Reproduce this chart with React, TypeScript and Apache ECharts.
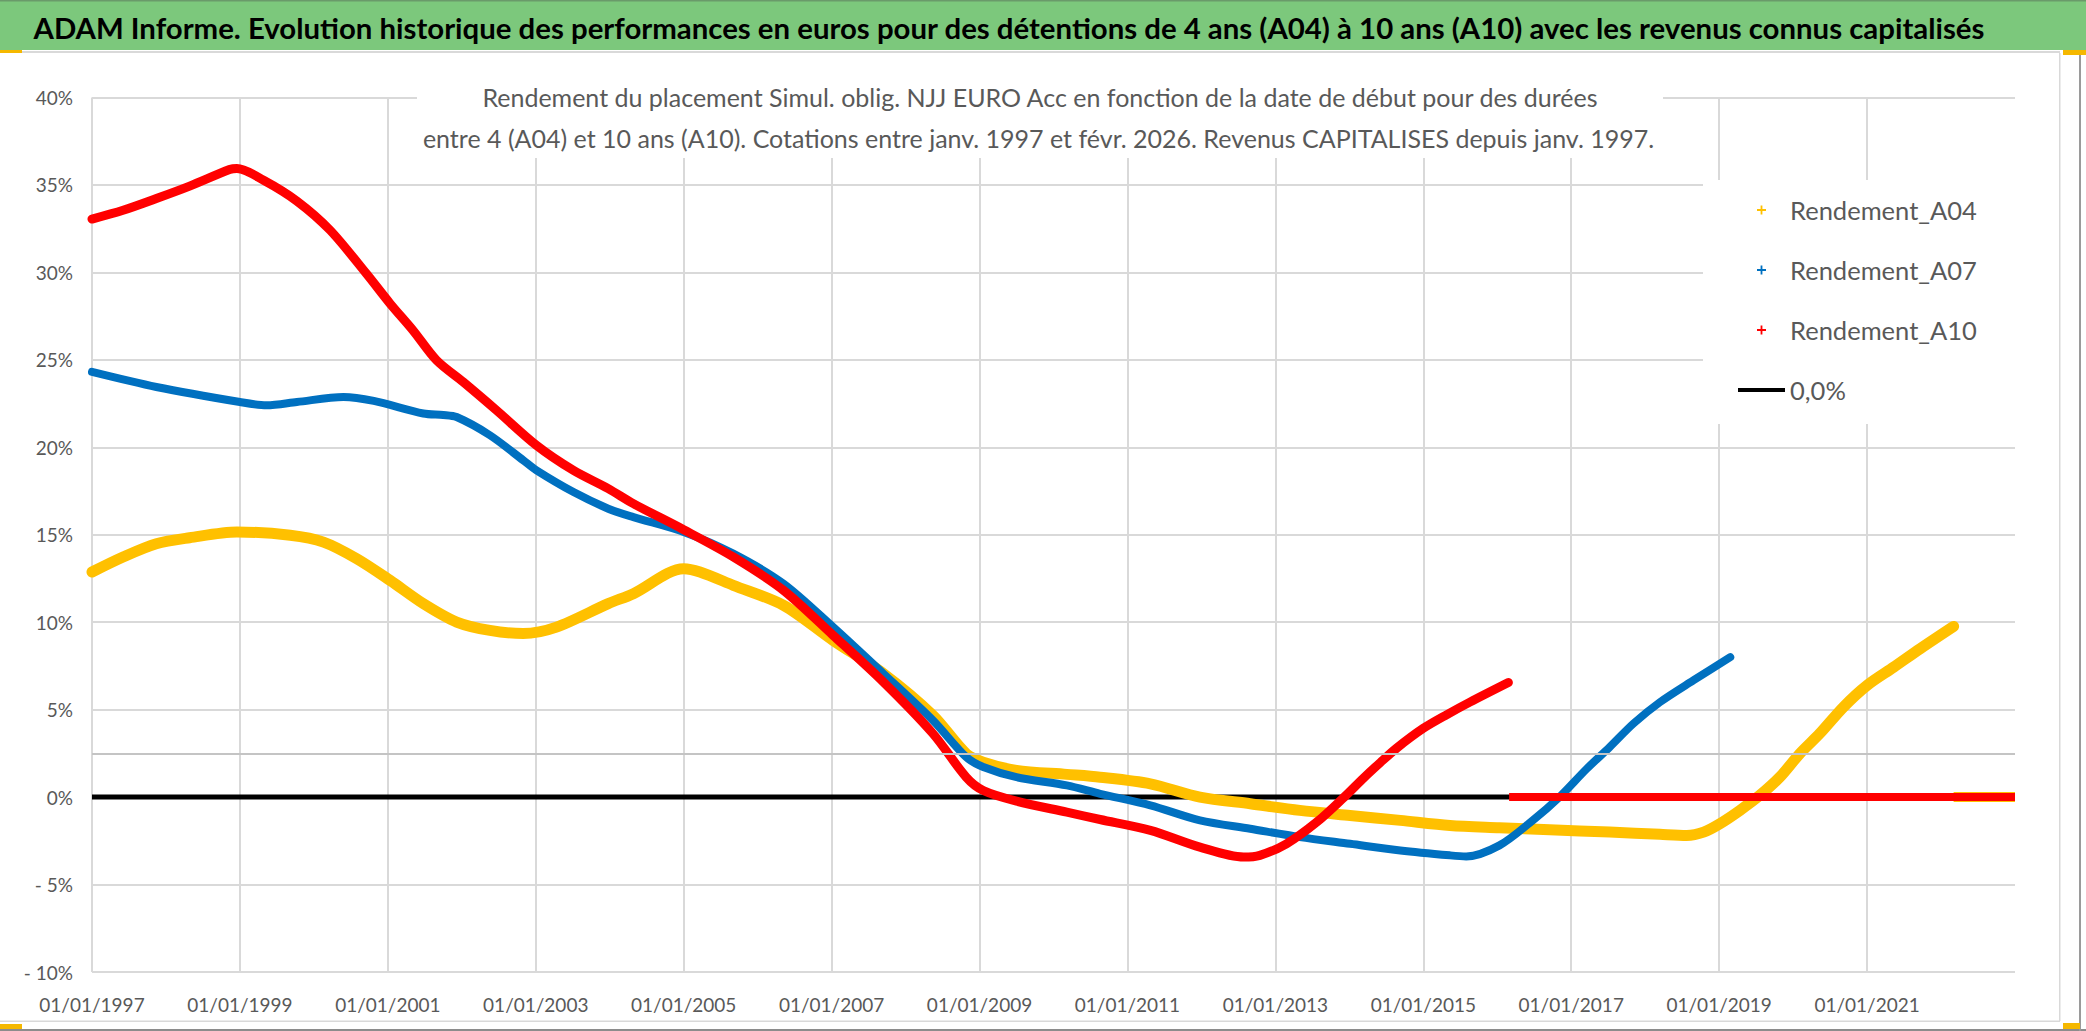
import React, { useEffect, useRef } from "react";
import * as echarts from "echarts";

// ---------- texts ----------
const TITLE =
  "ADAM Informe. Evolution historique des performances en euros pour des détentions de 4 ans (A04) à 10 ans (A10) avec les revenus connus capitalisés";
const SUBTITLE_1 =
  "Rendement du placement Simul. oblig. NJJ EURO Acc en fonction de la date de début pour des durées";
const SUBTITLE_2 =
  "entre 4 (A04) et 10 ans (A10). Cotations entre janv. 1997 et févr. 2026. Revenus CAPITALISES depuis janv. 1997.";

const SERIES_NAMES = ["Rendement_A04", "Rendement_A07", "Rendement_A10", "0,0%"];
const SERIES_COLORS = ["#FFC000", "#0070C0", "#FF0000", "#000000"];

// ---------- axes ----------
const X_START = 1997;
const X_END = 2023;
const X_STEP = 2;
const Y_MIN = -10;
const Y_MAX = 40;
const Y_STEP = 5;
const GUIDE_LEVEL = 2.5;

// ---------- data (x = decimal year of start date, y = % return) ----------
const a04Years = [
  1997.0, 1997.42, 1997.87, 1998.32, 1998.96, 1999.68, 2000.13, 2000.58, 2001.03, 2001.48,
  2001.93, 2002.38, 2002.83, 2003.28, 2003.98, 2004.32, 2005.0, 2005.22, 2005.67, 2006.35,
  2007.02, 2007.7, 2008.37, 2008.82, 2009.05, 2009.5, 2010.18, 2010.63, 2011.31, 2011.98,
  2012.66, 2013.33, 2014.01, 2014.69, 2015.36, 2016.03, 2016.71, 2017.52, 2018.2, 2018.56,
  2018.79, 2019.01, 2019.28, 2019.55, 2019.82, 2020.09, 2020.36, 2020.68, 2021.0, 2021.36,
  2021.72, 2022.17,
];
const a04Values = [
  12.87, 13.73, 14.49, 14.83, 15.16, 14.97, 14.58, 13.63, 12.39, 11.06,
  10.01, 9.53, 9.35, 9.72, 11.06, 11.63, 13.06, 12.87, 12.11, 10.96,
  8.96, 7.06, 4.67, 2.48, 2.0, 1.53, 1.3, 1.14, 0.76, 0.0,
  -0.38, -0.76, -1.05, -1.33, -1.62, -1.75, -1.87, -2.0, -2.13, -2.19,
  -2.0, -1.52, -0.76, 0.1, 1.14, 2.48, 3.63, 5.15, 6.39, 7.43,
  8.49, 9.76,
];

const a07Years = [
  1997.0, 1997.87, 1999.0, 1999.36, 1999.77, 2000.4, 2000.81, 2001.48, 2001.75, 2001.93,
  2002.38, 2002.83, 2003.01, 2003.51, 2003.98, 2004.32, 2005.0, 2005.67, 2006.35, 2007.02,
  2007.7, 2008.37, 2008.82, 2009.05, 2009.5, 2010.18, 2010.63, 2011.31, 2011.98, 2012.66,
  2013.33, 2014.01, 2014.69, 2015.36, 2015.58, 2016.03, 2016.48, 2016.84, 2017.21, 2017.52,
  2017.84, 2018.2, 2018.65, 2019.15,
];
const a07Values = [
  24.31, 23.45, 22.59, 22.4, 22.59, 22.88, 22.65, 21.93, 21.85, 21.73,
  20.69, 19.26, 18.68, 17.44, 16.49, 16.01, 15.16, 13.92, 12.2, 9.72,
  7.06, 4.39, 2.29, 1.72, 1.14, 0.67, 0.19, -0.47, -1.33, -1.81,
  -2.29, -2.67, -3.05, -3.33, -3.39, -2.76, -1.33, 0.0, 1.62, 2.86,
  4.2, 5.43, 6.67, 8.0,
];

const a10Years = [
  1997.0, 1997.42, 1997.87, 1998.32, 1998.86, 1998.96, 1999.32, 1999.77, 2000.22, 2000.71,
  2001.03, 2001.34, 2001.66, 2002.02, 2002.47, 2003.01, 2003.51, 2003.98, 2004.32, 2005.0,
  2005.67, 2006.35, 2007.02, 2007.7, 2008.37, 2008.82, 2009.05, 2009.5, 2010.18, 2010.63,
  2011.31, 2011.98, 2012.57, 2012.79, 2013.15, 2013.56, 2013.93, 2014.19, 2014.42, 2014.64,
  2015.0, 2015.32, 2015.63, 2016.15,
];
const a10Values = [
  33.05, 33.55, 34.22, 34.93, 35.88, 35.94, 35.27, 34.08, 32.41, 29.93,
  28.22, 26.69, 24.97, 23.73, 22.11, 20.11, 18.68, 17.64, 16.78, 15.29,
  13.73, 11.82, 9.25, 6.58, 3.63, 1.14, 0.38, -0.23, -0.86, -1.28,
  -1.9, -2.86, -3.43, -3.33, -2.67, -1.43, 0.0, 1.08, 1.98, 2.8,
  3.93, 4.72, 5.43, 6.55,
];

// zero values reported after the last computable start date of each duration
const tailStartYears = [2022.17, 2019.16, 2016.16];
const tailValue = 0;
const zeroLineYears = [X_START, X_END];
const zeroLineValues = [0, 0];

const FONT = "Lato, 'Open Sans', 'DejaVu Sans', sans-serif";

function measure(text: string, font: string): number {
  const c = document.createElement("canvas").getContext("2d");
  if (!c) return 0;
  c.font = font;
  return c.measureText(text).width;
}

function pairs(xs: number[], ys: number[]) {
  return xs.map((x, i) => [x, ys[i]]);
}

export default function App() {
  const ref = useRef<HTMLDivElement>(null);

  useEffect(() => {
    document.body.style.margin = "0";
    if (!ref.current) return;
    const chart = echarts.init(ref.current, undefined, { renderer: "svg" });

    // text fitting
    const titleFont = `bold 29px ${FONT}`;
    const titleScale = 1952 / (measure(TITLE, titleFont) || 1952);
    const subFont = `25px ${FONT}`;
    const subScale = 1231 / (measure(SUBTITLE_2, subFont) || 1231);
    const legendFs = Math.max(24, Math.min(30, (28 * 187) / (measure("Rendement_A04", `28px ${FONT}`) || 187)));
    const axisFs = Math.max(19, Math.min(24, (22 * 96.6) / (measure("01/01/2019", `22px ${FONT}`) || 96.6)));

    const lineWidths = [11, 8, 9];
    const curves = [pairs(a04Years, a04Values), pairs(a07Years, a07Values), pairs(a10Years, a10Values)];

    const series: any[] = [
      {
        name: SERIES_NAMES[3],
        type: "line",
        data: pairs(zeroLineYears, zeroLineValues),
        showSymbol: false,
        symbol: "none",
        color: SERIES_COLORS[3],
        lineStyle: { width: 5, color: SERIES_COLORS[3] },
        silent: true,
        markLine: {
          silent: true,
          symbol: "none",
          label: { show: false },
          lineStyle: { color: "#c4c4c4", width: 2, type: "solid" },
          data: [{ yAxis: GUIDE_LEVEL }],
        },
      },
    ];
    for (let i = 0; i < 3; i++) {
      series.push({
        name: SERIES_NAMES[i],
        type: "line",
        data: curves[i],
        smooth: 0.3,
        showSymbol: false,
        symbol: "none",
        color: SERIES_COLORS[i],
        lineStyle: { width: lineWidths[i], color: SERIES_COLORS[i], cap: "round", join: "round" },
        silent: true,
      });
      series.push({
        name: SERIES_NAMES[i],
        type: "line",
        data: [
          [tailStartYears[i], tailValue],
          [X_END, tailValue],
        ],
        showSymbol: false,
        symbol: "none",
        color: SERIES_COLORS[i],
        lineStyle: { width: lineWidths[i] - 1, color: SERIES_COLORS[i] },
        silent: true,
      });
    }

    const plusIcon = "path://M4,0H6V4H10V6H6V10H4V6H0V4H4Z";
    const barIcon = "path://M0,0H47V4H0Z";

    const option: any = {
      animation: false,
      backgroundColor: "#ffffff",
      grid: { left: 92, top: 97.5, width: 1923, height: 874.5, containLabel: false },
      xAxis: {
        type: "value",
        min: X_START,
        max: X_END,
        interval: X_STEP,
        axisLine: { show: false },
        axisTick: { show: false },
        splitLine: { show: true, showMaxLine: false, lineStyle: { color: "#d9d9d9", width: 2 } },
        axisLabel: {
          showMaxLabel: false,
          margin: 23,
          color: "#595959",
          fontSize: axisFs,
          fontFamily: FONT,
          formatter: (v: number) => (Math.abs(v - Math.round(v)) < 1e-6 ? `01/01/${Math.round(v)}` : ""),
        },
      },
      yAxis: {
        type: "value",
        min: Y_MIN,
        max: Y_MAX,
        interval: Y_STEP,
        axisLine: { show: false },
        axisTick: { show: false },
        splitLine: { show: true, lineStyle: { color: "#d9d9d9", width: 2 } },
        axisLabel: {
          margin: 19,
          color: "#595959",
          fontSize: axisFs,
          fontFamily: FONT,
          formatter: (v: number) => (v < 0 ? `- ${-v}%` : `${v}%`),
        },
      },
      legend: {
        show: true,
        orient: "vertical",
        left: 1738,
        top: 195,
        padding: 0,
        itemGap: 30,
        itemWidth: 47,
        itemHeight: 9,
        symbolKeepAspect: true,
        selectedMode: false,
        textStyle: { color: "#595959", fontSize: legendFs, fontFamily: FONT, lineHeight: 30 },
        data: [
          { name: SERIES_NAMES[0], icon: plusIcon },
          { name: SERIES_NAMES[1], icon: plusIcon },
          { name: SERIES_NAMES[2], icon: plusIcon },
          { name: SERIES_NAMES[3], icon: barIcon },
        ],
      },
      graphic: [
        // outer frame
        { type: "rect", z: 1, silent: true, shape: { x: 0, y: 0, width: 2086, height: 50 }, style: { fill: "#7cc87c" } },
        { type: "rect", z: 1, silent: true, shape: { x: 0, y: 0, width: 2086, height: 1.5 }, style: { fill: "#6a9a6a" } },
        { type: "rect", z: 1, silent: true, shape: { x: 0, y: 51, width: 2060, height: 2 }, style: { fill: "#d9d9d9" } },
        { type: "rect", z: 1, silent: true, shape: { x: 2059, y: 53, width: 1.5, height: 968 }, style: { fill: "#d9d9d9" } },
        { type: "rect", z: 1, silent: true, shape: { x: 0, y: 1020.5, width: 2060, height: 1.5 }, style: { fill: "#d9d9d9" } },
        { type: "rect", z: 1, silent: true, shape: { x: 0, y: 1029, width: 2086, height: 2 }, style: { fill: "#8c8c8c" } },
        { type: "rect", z: 1, silent: true, shape: { x: 2079, y: 50, width: 2, height: 981 }, style: { fill: "#9a9a9a" } },
        // small orange handles
        { type: "rect", z: 2, silent: true, shape: { x: 0, y: 50, width: 22, height: 3 }, style: { fill: "#f5b800" } },
        { type: "rect", z: 2, silent: true, shape: { x: 2063, y: 50, width: 23, height: 5 }, style: { fill: "#f5b800" } },
        { type: "rect", z: 2, silent: true, shape: { x: 2063, y: 1023, width: 17, height: 6 }, style: { fill: "#f5b800" } },
        { type: "rect", z: 2, silent: true, shape: { x: 0, y: 1024, width: 22, height: 5 }, style: { fill: "#f5b800" } },
        // title
        {
          type: "text",
          z: 5,
          silent: true,
          x: 1009,
          y: 28,
          scaleX: titleScale,
          style: {
            x: 0,
            y: 0,
            text: TITLE,
            fill: "#000000",
            font: titleFont,
            align: "center",
            verticalAlign: "middle",
          },
        },
        // subtitle box
        { type: "rect", z: 3, silent: true, shape: { x: 417, y: 62, width: 1246, height: 96 }, style: { fill: "#ffffff" } },
        {
          type: "text",
          z: 5,
          silent: true,
          x: 1040,
          y: 97,
          scaleX: subScale,
          style: { x: 0, y: 0, text: SUBTITLE_1, fill: "#595959", font: subFont, align: "center", verticalAlign: "middle" },
        },
        {
          type: "text",
          z: 5,
          silent: true,
          x: 1038.5,
          y: 138,
          scaleX: subScale,
          style: { x: 0, y: 0, text: SUBTITLE_2, fill: "#595959", font: subFont, align: "center", verticalAlign: "middle" },
        },
        // legend box
        { type: "rect", z: 3, silent: true, shape: { x: 1703, y: 180, width: 318, height: 244 }, style: { fill: "#ffffff" } },
      ],
      series,
    };

    chart.setOption(option);
    return () => chart.dispose();
  }, []);

  return (
    <div
      ref={ref}
      style={{ position: "fixed", left: 0, top: 0, width: "2086px", height: "1031px", background: "#ffffff" }}
    />
  );
}
